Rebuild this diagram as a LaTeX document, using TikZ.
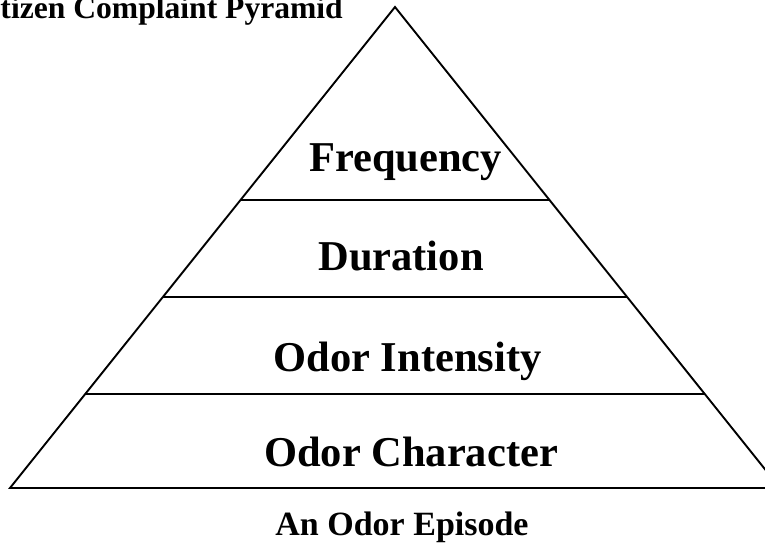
\documentclass[tikz,border=0pt]{standalone}
\usepackage{fontspec}
\setmainfont{Liberation Serif}
\usetikzlibrary{calc}
\begin{document}
\begin{tikzpicture}[x=1pt,y=1pt,
  edge/.style={line width=1.9pt, line join=miter},
  level/.style={font=\bfseries\fontsize{42.5}{48}\selectfont, anchor=base, inner sep=0pt},
  caption/.style={font=\bfseries\fontsize{34}{40}\selectfont, anchor=base, inner sep=0pt},
  heading/.style={font=\bfseries\fontsize{31.6}{36}\selectfont, anchor=base east, inner sep=0pt}]
\useasboundingbox (0,0) rectangle (765,542);
\clip (0,0) rectangle (765,542);
\coordinate (apex) at (395,535);
\coordinate (bl) at (10,54);
\coordinate (br) at (780,54);
\coordinate (l1) at ($(apex)!0.4012!(bl)$);
\coordinate (r1) at ($(apex)!0.4012!(br)$);
\coordinate (l2) at ($(apex)!0.6029!(bl)$);
\coordinate (r2) at ($(apex)!0.6029!(br)$);
\coordinate (l3) at ($(apex)!0.8046!(bl)$);
\coordinate (r3) at ($(apex)!0.8046!(br)$);
\draw[edge] (bl) -- (apex) -- (br) -- cycle;
\draw[edge] (l1) -- (r1);
\draw[edge] (l2) -- (r2);
\draw[edge] (l3) -- (r3);
\node[level] (freq) at (405.5,370.5) {Frequency};
\node[level] (dur) at (401,271.3) {Duration};
\node[level] (inten) at (407.5,171) {Odor Intensity};
\node[level] (char) at (411,75.5) {Odor Character};
\node[caption] (episode) at (402,6.5) {An Odor Episode};
\node[heading] (title) at (343,523) {Citizen Complaint Pyramid};
\end{tikzpicture}
\end{document}
